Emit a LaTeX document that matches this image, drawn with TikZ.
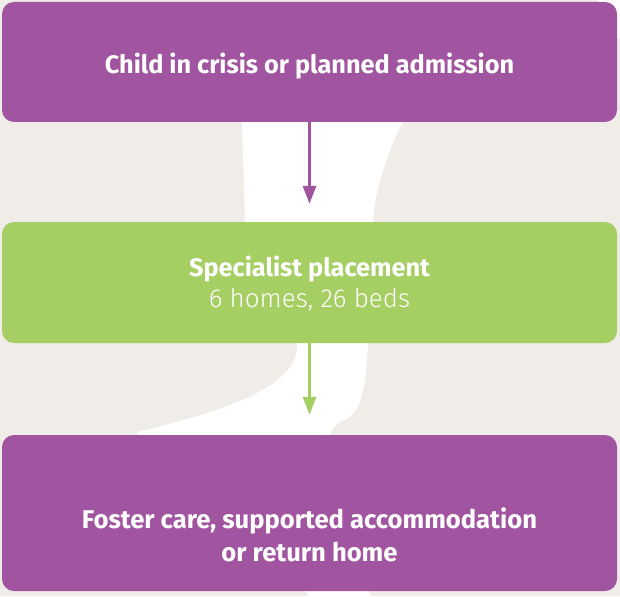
\documentclass[tikz,border=0pt]{standalone}
\usepackage{fontspec}
\setmainfont{Fira Sans}
\newfontfamily\boldf{Fira Sans Bold}
\newfontfamily\lightf{Fira Sans Light}
\usetikzlibrary{arrows.meta}
\definecolor{bgc}{HTML}{F0ECE8}
\definecolor{purp}{HTML}{A155A0}
\definecolor{grn}{HTML}{A5CE63}
\tikzset{
  box/.style={rectangle, rounded corners=12pt, minimum width=615pt, inner sep=0pt, text=white, align=center},
  pbox/.style={box, fill=purp},
  gbox/.style={box, fill=grn},
  conn/.style={line width=3pt, -{Triangle[length=18pt,width=13pt]}},
}
\begin{document}
\begin{tikzpicture}[x=1pt,y=-1pt]
\fill[bgc] (0,0) rectangle (620,596);
\useasboundingbox (0,0) rectangle (620,596);
% white background swoosh
\fill[white] (242,122) -- (242,10) -- (598,10) -- (598,-10) -- (640,-10) -- (640,38) -- (615,38) -- (402,123)
  .. controls (385,160) and (375,190) .. (373,222) -- (368,343)
  .. controls (366,385) and (362,412) .. (345,420)
  .. controls (333,425) and (330,430) .. (330,440)
  -- (368,590) -- (378,610) -- (318,610) -- (305,590) -- (140,440) -- (137,432)
  .. controls (230,410) and (300,385) .. (297,343)
  -- (245,222) -- cycle;
\node[pbox, minimum height=120pt] (top) at (309.5,62) {};
\node[gbox, minimum height=121pt] (mid) at (309.5,282.5) {};
\node[pbox, minimum height=156pt] (bot) at (309.5,513) {};
\node[text=white, font=\boldf\fontsize{25.3}{28}\selectfont] (t1) at (309.5,66) {Child in crisis or planned admission};
\node[text=white, align=center, font=\fontsize{25.3}{31}\selectfont] (t2) at (309.5,284) {{\boldf Specialist placement}\\{\lightf\fontsize{26}{31}\selectfont 6 homes, 26 beds}};
\node[text=white, align=center, font=\boldf\fontsize{25.6}{33}\selectfont] (t3) at (309.5,535) {Foster care, supported accommodation\\or return home};
\draw[conn, purp, shorten >=18pt] (top) -- (mid);
\draw[conn, grn, shorten >=20pt] (mid) -- (bot);
\end{tikzpicture}
\end{document}
